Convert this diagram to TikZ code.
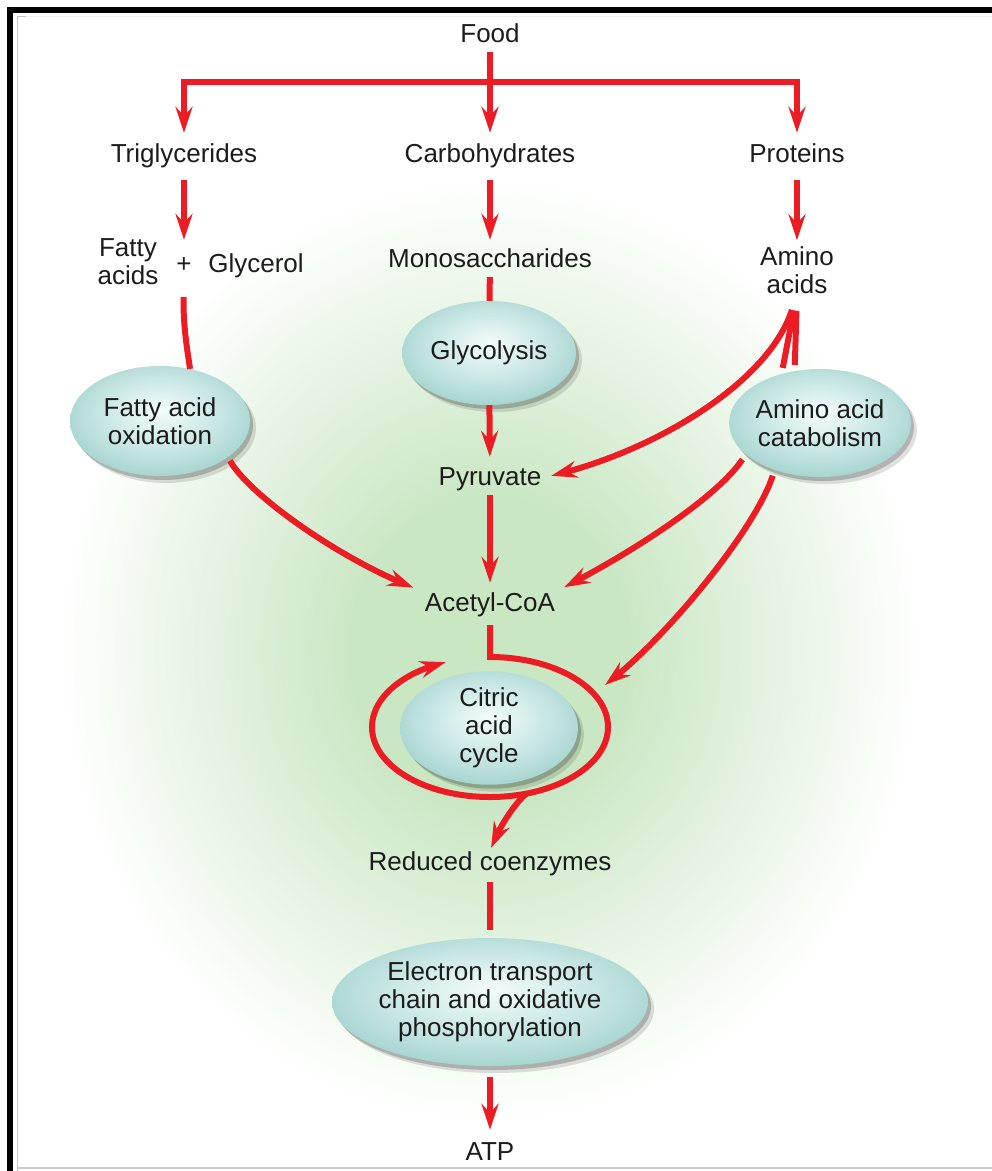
\documentclass[tikz,border=0pt]{standalone}
\usepackage{fontspec}
\setmainfont{Liberation Sans}
\usetikzlibrary{arrows.meta,shapes.geometric,shadows,calc,bending}

\definecolor{redc}{RGB}{236,28,36}
\definecolor{txt}{RGB}{28,28,28}
\definecolor{glowg}{RGB}{202,231,196}
\definecolor{ellhi}{RGB}{242,251,250}
\definecolor{ellmid}{RGB}{222,242,240}
\definecolor{ellrim}{RGB}{190,225,222}
\definecolor{ellrd}{RGB}{168,213,208}
\colorlet{glowh}{glowg!50!white}
\pgfdeclareradialshading{bgglow}{\pgfpoint{0bp}{0bp}}{color(0bp)=(glowg); color(7bp)=(glowg); color(14bp)=(glowh); color(21.5bp)=(white); color(50bp)=(white)}
\pgfdeclareradialshading{ellball}{\pgfpoint{0bp}{5bp}}{color(0bp)=(ellhi); color(8bp)=(ellmid); color(20bp)=(ellrim); color(27bp)=(ellrd); color(50bp)=(ellrd)}

\begin{document}
\begin{tikzpicture}[x=1pt,y=-1pt,
  lbl/.style={inner sep=0pt, text height=19pt, text depth=5pt, text=txt, font=\fontsize{26}{28}\selectfont},
  lblm/.style={inner sep=0pt, align=center, text=txt, font=\fontsize{26}{28}\selectfont},
  proc/.style={ellipse, inner sep=0pt, shading=ellball, align=center, text=txt,
    font=\fontsize{26}{28}\selectfont,
    drop shadow={shadow xshift=3pt, shadow yshift=-4pt, opacity=.2, fill=black},
    drop shadow={shadow xshift=6pt, shadow yshift=-7pt, opacity=.12, fill=black}},
  rl/.style={draw=redc, line width=6pt},
  arr/.style={rl, -{Stealth[length=26pt,width=17pt,inset=9pt]}},
]
\useasboundingbox (0,0) rectangle (992,1171);
\fill[white] (0,0) rectangle (992,1171);
\shade[shading=bgglow] (-10,100) rectangle (990,1200);

% frame
\draw[gray!45, line width=1pt] (17.5,1171) -- (17.5,16) -- (26,16);
\draw[gray!12, line width=1pt] (26,16) -- (992,16);
\draw[gray!40, line width=1.2pt] (17.5,1168) -- (992,1168);
\draw[black, line width=6pt] (10,1171) -- (10,9.5) -- (992,9.5);

% text nodes
\node[lbl] (food) at (490,35) {Food};
\node[lbl] (trig) at (184,155) {Triglycerides};
\node[lbl] (carb) at (490,155) {Carbohydrates};
\node[lbl] (prot) at (797,155) {Proteins};
\node[lblm] (fatty) at (128,262) {Fatty\\acids};
\node[lbl] (plus) at (184,265) {+};
\node[lbl] (glyc) at (256,265) {Glycerol};
\node[lbl] (mono) at (490,260) {Monosaccharides};
\node[lblm] (amino) at (797,270) {Amino\\acids};
\node[lbl] (pyr) at (490,478) {Pyruvate};
\node[lbl] (acetyl) at (490,604) {Acetyl-CoA};
\node[lbl] (red) at (490,863) {Reduced coenzymes};
\node[lbl] (atp) at (490,1153) {ATP};

% process ellipses
\node[proc, minimum width=174pt, minimum height=104pt] (glycolysis) at (489,353) {Glycolysis};
\node[proc, minimum width=180pt, minimum height=110pt] (fao) at (160,421) {Fatty acid\\oxidation};
\node[proc, minimum width=174pt, minimum height=108pt] (cat) at (820,423) {Amino acid\\catabolism};
\node[proc, minimum width=178pt, minimum height=110pt] (tca) at (489,728) {Citric\\acid\\cycle};
\node[proc, minimum width=316pt, minimum height=128pt] (etc) at (490,1002) {Electron transport\\chain and oxidative\\phosphorylation};

\coordinate (jM) at (184,82);
\coordinate (jR) at (797,82);
\coordinate (cycletop) at (490,657);
\coordinate (cycleout) at (527,793);
\coordinate (cyclein) at (605,685);

% top distribution
\draw[arr, shorten <=5pt, shorten >=10pt] (food) -- (carb);
\draw[arr, shorten >=10pt] (jR) -- (jM) -- (trig.north);
\draw[arr, shorten >=10pt] (jM) -- (jR) -- (prot.north);

% second row
\draw[arr, shorten <=13pt, shorten >=13pt] (trig.south) -- (plus.north);
\draw[arr, shorten <=13pt, shorten >=8pt] (carb) -- (mono);
\draw[arr, shorten <=13pt, shorten >=6pt] (prot) -- (amino);

% fatty acids
\draw[rl, shorten <=20pt] (plus.south) .. controls (183,325) and (187,348) .. (fao.60);
\draw[arr, shorten <=4pt, shorten >=12pt] (fao.-28) .. controls (250,497) and (350,566) .. (acetyl.north west);

% carbohydrates
\draw[rl, shorten <=5pt] (mono) -- (glycolysis);
\draw[arr, shorten >=9pt] (glycolysis) -- (pyr);
\draw[arr, shorten <=5pt, shorten >=9pt] (pyr) -- (acetyl);

% amino acids
\draw[rl, shorten <=6pt, shorten >=17pt] (cat.128) -- (amino.south);
\draw[rl, shorten <=6pt, shorten >=17pt] (cat.116) -- (amino.south);
\draw[arr, shorten <=17pt, shorten >=10pt] (amino.south) .. controls (768,385) and (650,455) .. (pyr.east);
\draw[arr, shorten <=6pt, shorten >=10pt] (cat.203) .. controls (715,500) and (625,557) .. (acetyl.north east);
\draw[arr, shorten <=6pt] (cat.226) .. controls (755,530) and (665,640) .. (cyclein);

% citric acid cycle
\draw[arr, shorten <=9pt] (acetyl.south) -- (cycletop) arc[start angle=-90, end angle=248, x radius=118, y radius=70];
\draw[arr, shorten >=3pt] (cycleout) .. controls (515,803) and (498,828) .. (red.north);

% bottom
\draw[rl, shorten <=7pt, shorten >=8pt] (red) -- (etc);
\draw[arr, shorten <=11pt, shorten >=11pt] (etc) -- (atp);
\end{tikzpicture}
\end{document}
